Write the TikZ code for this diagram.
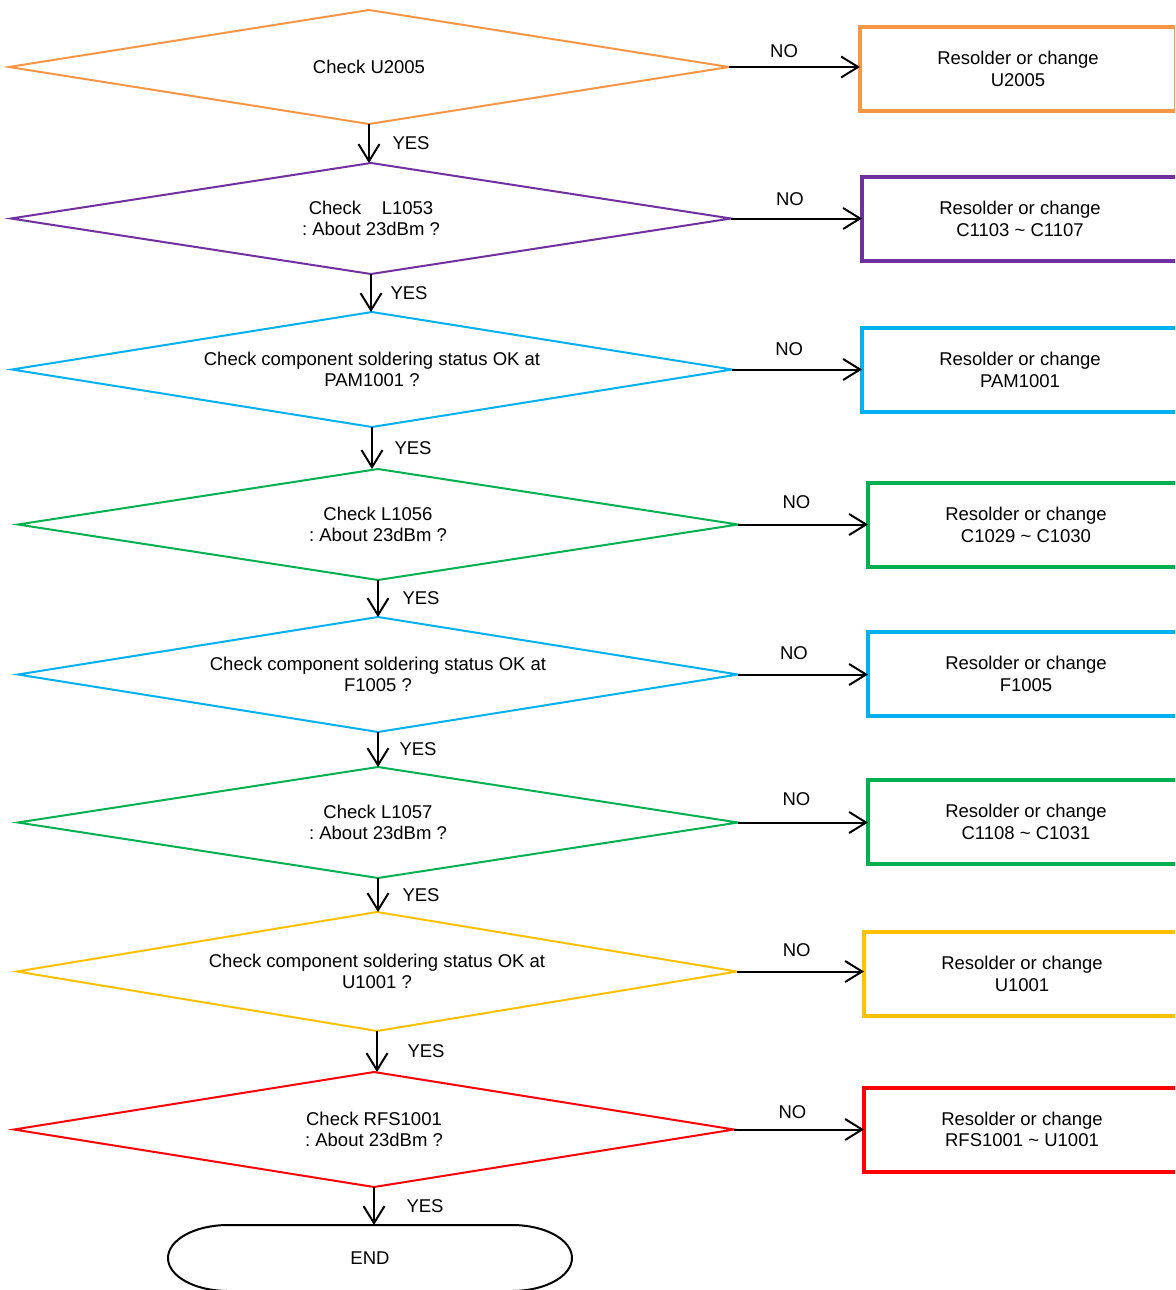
\documentclass[tikz,border=0pt]{standalone}
\usepackage{fontspec}
\setmainfont{Liberation Sans}
\usetikzlibrary{shapes.geometric,arrows.meta}
\definecolor{corange}{HTML}{F79646}
\definecolor{cpurple}{HTML}{7030A0}
\definecolor{ccyan}{HTML}{00B0F0}
\definecolor{cgreen}{HTML}{00B050}
\definecolor{cyellow}{HTML}{FFC000}
\definecolor{cred}{HTML}{FF0000}
\frenchspacing
\begin{document}
\begin{tikzpicture}[x=1pt,y=-1pt,
  every node/.style={font=\fontsize{18.5}{21.5}\selectfont\frenchspacing, inner sep=2pt},
  dec/.style={diamond, draw, line width=2pt, minimum width=720pt, aspect=6.5, outer sep=0pt, align=center, inner sep=0pt},
  fix/.style={rectangle, draw, line width=4pt, minimum width=316pt, minimum height=84pt, align=center, outer sep=0pt},
  arr/.style={line width=2pt, -{Straight Barb[length=17pt,width=21pt,line width=2pt]}},
  lbl/.style={inner sep=2pt}]
\clip (0,0) rectangle (1175,1290);
% decisions
\node[dec, minimum height=114pt, draw=corange] (d1) at (369,67) {Check U2005};
\node[dec, minimum height=111pt, draw=cpurple] (d2) at (371,218.5) {Check\ \ \ \ L1053\\: About 23dBm ?};
\node[dec, minimum height=115pt, draw=ccyan] (d3) at (372,369.5) {Check component soldering status OK at\\PAM1001 ?};
\node[dec, minimum height=111pt, draw=cgreen] (d4) at (378,524.5) {Check L1056\\: About 23dBm ?};
\node[dec, minimum height=115pt, draw=ccyan] (d5) at (378,674.5) {Check component soldering status OK at\\F1005 ?};
\node[dec, minimum height=111pt, draw=cgreen] (d6) at (378,822.5) {Check L1057\\: About 23dBm ?};
\node[dec, minimum height=119pt, draw=cyellow] (d7) at (377,971.5) {Check component soldering status OK at\\U1001 ?};
\node[dec, minimum height=115pt, draw=cred] (d8) at (374,1129.5) {Check RFS1001\\: About 23dBm ?};
% fixes
\node[fix, draw=corange] (b1) at (1018,69) {Resolder or change\\U2005};
\node[fix, draw=cpurple] (b2) at (1020,219) {Resolder or change\\C1103 \textasciitilde{} C1107};
\node[fix, draw=ccyan] (b3) at (1020,370) {Resolder or change\\PAM1001};
\node[fix, draw=cgreen] (b4) at (1026,525) {Resolder or change\\C1029 \textasciitilde{} C1030};
\node[fix, draw=ccyan] (b5) at (1026,674) {Resolder or change\\F1005};
\node[fix, draw=cgreen] (b6) at (1026,822) {Resolder or change\\C1108 \textasciitilde{} C1031};
\node[fix, draw=cyellow] (b7) at (1022,974) {Resolder or change\\U1001};
\node[fix, draw=cred] (b8) at (1022,1129.5) {Resolder or change\\RFS1001 \textasciitilde{} U1001};
% end (stadium with elliptical ends)
\node[rectangle, minimum width=404pt, minimum height=66pt, outer sep=0pt] (end) at (370,1258) {END};
\draw[line width=2pt] ([xshift=60pt]end.north west) -- ([xshift=-60pt]end.north east)
  arc[start angle=90, end angle=-90, x radius=60pt, y radius=33pt]
  -- ([xshift=60pt]end.south west)
  arc[start angle=270, end angle=90, x radius=60pt, y radius=33pt] -- cycle;
% NO arrows
\draw[arr] (d1.east) -- node[lbl, above=6.4pt, pos=0.42]{NO} (d1.east -| b1.west);
\draw[arr] (d2.east) -- node[lbl, above=9.4pt, pos=0.45]{NO} (d2.east -| b2.west);
\draw[arr] (d3.east) -- node[lbl, above=10.4pt, pos=0.44]{NO} (d3.east -| b3.west);
\draw[arr] (d4.east) -- node[lbl, above=12.4pt, pos=0.45]{NO} (d4.east -| b4.west);
\draw[arr] (d5.east) -- node[lbl, above=11.4pt, pos=0.43]{NO} (d5.east -| b5.west);
\draw[arr] (d6.east) -- node[lbl, above=13.4pt, pos=0.45]{NO} (d6.east -| b6.west);
\draw[arr] (d7.east) -- node[lbl, above=11.4pt, pos=0.47]{NO} (d7.east -| b7.west);
\draw[arr] (d8.east) -- node[lbl, above=7.4pt, pos=0.45]{NO} (d8.east -| b8.west);
% YES arrows
\draw[arr] (d1.south) -- node[lbl, right=20.5pt, midway]{YES} (d1.south |- d2.north);
\draw[arr] (d2.south) -- node[lbl, right=16.5pt, midway]{YES} (d2.south |- d3.north);
\draw[arr] (d3.south) -- node[lbl, right=19.5pt, midway]{YES} (d3.south |- d4.north);
\draw[arr] (d4.south) -- node[lbl, right=21.5pt, midway]{YES} (d4.south |- d5.north);
\draw[arr] (d5.south) -- node[lbl, right=18.5pt, midway]{YES} (d5.south |- d6.north);
\draw[arr] (d6.south) -- node[lbl, right=21.5pt, midway]{YES} (d6.south |- d7.north);
\draw[arr] (d7.south) -- node[lbl, right=27.5pt, midway]{YES} (d7.south |- d8.north);
\draw[arr] (d8.south) -- node[lbl, right=29.5pt, midway]{YES} (d8.south |- end.north);
\end{tikzpicture}
\end{document}
